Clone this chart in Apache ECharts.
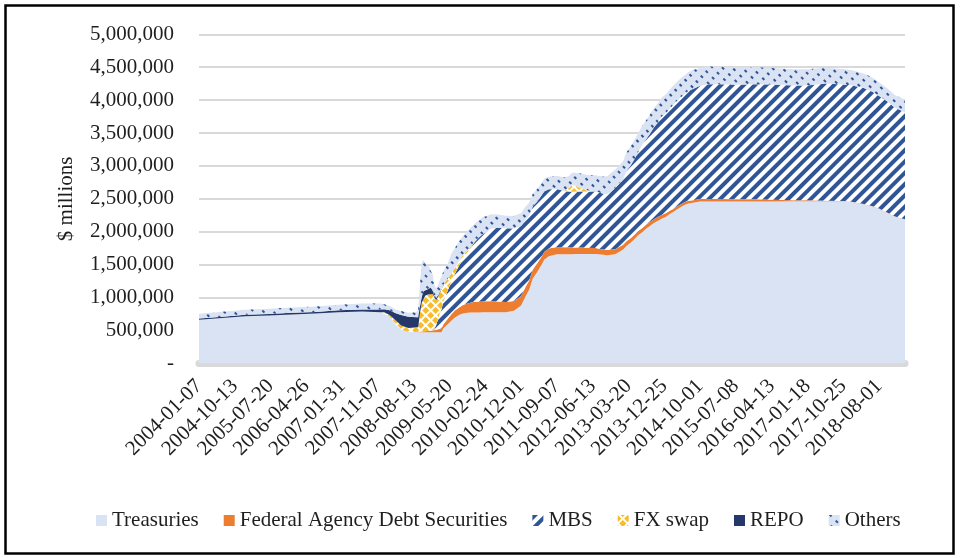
<!DOCTYPE html>
<html>
<head>
<meta charset="utf-8">
<script src="https://cdn.jsdelivr.net/npm/echarts@6/dist/echarts.min.js"></script>
<style>
  html, body { margin: 0; padding: 0; background: #ffffff; }
  #chart { width: 960px; height: 558px; }
</style>
</head>
<body>
<div id="chart"></div>
<script>
// ---- data ($ millions, weekly dates) ----
const startDate = '2004-01-07';
const endDate = '2019-02-20';
const xTickLabels = ['2004-01-07','2004-10-13','2005-07-20','2006-04-26','2007-01-31','2007-11-07','2008-08-13','2009-05-20','2010-02-24','2010-12-01','2011-09-07','2012-06-13','2013-03-20','2013-12-25','2014-10-01','2015-07-08','2016-04-13','2017-01-18','2017-10-25','2018-08-01'];
const seriesNames = ['Treasuries','Federal Agency Debt Securities','MBS','FX swap','REPO','Others'];

const dates = ['2004-01-07','2004-07-07','2005-01-05','2005-07-06','2006-01-04','2006-07-05','2007-01-03','2007-07-04','2007-11-28','2007-12-26',
'2008-02-06','2008-03-26','2008-05-07','2008-07-02','2008-09-03','2008-09-17','2008-10-01','2008-10-15','2008-10-29','2008-11-12',
'2008-11-26','2008-12-10','2008-12-24','2009-01-07','2009-01-21','2009-02-04','2009-02-18','2009-03-04','2009-03-18','2009-04-01',
'2009-05-06','2009-06-03','2009-07-01','2009-08-05','2009-09-02','2009-10-07','2009-11-04','2009-12-02','2010-01-06','2010-02-03',
'2010-03-03','2010-04-07','2010-06-02','2010-08-04','2010-10-06','2010-12-01','2011-01-05','2011-02-02','2011-03-02','2011-04-06',
'2011-05-04','2011-06-01','2011-07-06','2011-09-07','2011-11-02','2011-12-07','2012-01-04','2012-02-01','2012-03-07','2012-05-02',
'2012-07-04','2012-09-05','2012-10-03','2012-12-05','2013-01-02','2013-02-06','2013-03-06','2013-04-03','2013-05-01','2013-06-05',
'2013-07-03','2013-08-07','2013-09-04','2013-10-02','2013-11-06','2013-12-04','2014-01-08','2014-02-05','2014-03-05','2014-04-02',
'2014-05-07','2014-06-04','2014-07-02','2014-08-06','2014-10-01','2014-12-03','2015-03-04','2015-07-08','2015-12-02','2016-04-13',
'2016-10-05','2017-01-18','2017-06-07','2017-10-25','2018-01-03','2018-04-04','2018-06-06','2018-08-01','2018-10-03','2018-12-05',
'2019-01-09','2019-02-20'];

const treasuries = [666000,690000,717000,728000,745000,760000,779000,790000,779000,755000,
713000,590000,515000,479000,480000,480000,476000,476000,476000,476000,
476000,476000,476000,476000,476000,475000,475000,474000,474000,530000,
595000,650000,700000,740000,760000,770000,776000,776000,776000,777000,
777000,777000,777000,777000,800000,880000,1020000,1120000,1290000,1390000,
1480000,1580000,1630000,1660000,1660000,1660000,1660000,1663000,1664000,1665000,
1665000,1650000,1645000,1660000,1690000,1730000,1790000,1830000,1880000,1950000,
1990000,2050000,2090000,2130000,2170000,2200000,2230000,2270000,2300000,2340000,
2380000,2410000,2430000,2440000,2460000,2461000,2461000,2461000,2461000,2462000,
2463000,2464000,2465000,2465000,2454000,2419000,2390000,2350000,2290000,2230000,
2210000,2190000];

const agencyDebt = [0,0,0,0,0,0,0,0,0,0,
0,0,0,0,0,0,5000,10000,15000,15000,
18000,20000,20000,25000,30000,35000,45000,50000,55000,62000,
85000,97000,105000,115000,128000,140000,150000,160000,162000,165000,
168000,169000,165000,157000,150000,147000,144000,140000,139000,132000,
125000,118000,115000,110000,106000,104000,103000,100000,97000,92000,
88000,82000,80000,77000,76000,74000,72000,70000,68000,66000,
64000,62000,60000,58000,57000,57000,55000,50000,48000,46000,
44000,43000,42000,41000,40000,39000,36000,35000,33000,25000,
18000,14000,6000,4000,4000,4000,3000,2400,2400,2400,
2400,2400];

const mbs = [0,0,0,0,0,0,0,0,0,0,
0,0,0,0,0,0,0,0,0,0,
0,0,0,0,20000,70000,150000,236000,290000,350000,
430000,500000,560000,640000,700000,770000,840000,908000,980000,1020000,
1050000,1100000,1120000,1120000,1100000,1060000,1020000,990000,960000,940000,
930000,920000,900000,880000,855000,849000,845000,850000,853000,855000,
860000,845000,850000,927000,960000,1000000,1070000,1100000,1140000,1200000,
1260000,1300000,1340000,1390000,1440000,1490000,1520000,1550000,1580000,1600000,
1625000,1640000,1670000,1690000,1720000,1740000,1745000,1737000,1747000,1750000,
1740000,1745000,1780000,1770000,1765000,1760000,1740000,1710000,1690000,1650000,
1640000,1620000];

const fxSwap = [0,0,0,0,0,0,0,0,0,24000,
24000,62000,62000,62000,62000,70000,290000,440000,520000,540000,
550000,555000,580000,553000,450000,380000,340000,310000,300000,250000,
180000,120000,90000,70000,60000,35000,20000,10000,2000,0,
0,0,0,0,0,0,0,0,0,0,
0,0,0,0,0,50000,100000,85000,50000,20000,
5000,0,0,0,0,0,0,0,0,0,
0,0,0,0,0,0,0,0,0,0,
0,0,0,0,0,0,0,0,0,0,
0,0,0,0,0,0,0,0,0,0,
0,0];

const repo = [18000,20000,25000,24000,25000,22000,30000,30000,40000,45000,
70000,110000,160000,170000,165000,150000,100000,90000,90000,80000,
80000,90000,80000,60000,40000,30000,20000,15000,10000,5000,
0,0,0,0,0,0,0,0,0,0,
0,0,0,0,0,0,0,0,0,0,
0,0,0,0,0,0,0,0,0,0,
0,0,0,0,0,0,0,0,0,0,
0,0,0,0,0,0,0,0,0,0,
0,0,0,0,0,0,0,0,0,0,
0,0,0,0,0,0,0,0,0,0,
0,0];

const others = [72000,75000,76000,80000,82000,85000,85000,90000,92000,75000,
65000,60000,60000,60000,70000,130000,350000,520000,470000,420000,
380000,330000,250000,250000,180000,150000,160000,180000,190000,200000,
230000,300000,300000,300000,290000,300000,280000,270000,260000,260000,
240000,220000,200000,190000,190000,200000,200000,190000,190000,190000,
190000,190000,190000,200000,205000,180000,190000,200000,220000,230000,
240000,260000,270000,280000,270000,270000,280000,290000,290000,290000,
290000,290000,290000,290000,290000,290000,290000,290000,290000,290000,
290000,290000,285000,285000,270000,270000,265000,262000,259000,253000,
249000,245000,240000,235000,230000,222000,215000,210000,200000,190000,
190000,190000];

// ---- weekly category axis (one category per week, like the source sheet) ----
const WEEK = 7 * 86400000;
const t0 = Date.parse(startDate);
function weekIndex(d) { return Math.round((Date.parse(d) - t0) / WEEK); }
function isoDay(ms) { return new Date(ms).toISOString().slice(0, 10); }
const nWeeks = weekIndex(endDate) + 1;
const weeks = [];
for (let k = 0; k < nWeeks; k++) weeks.push(isoDay(t0 + k * WEEK));
const xs = dates.map(weekIndex);
function pairs(arr) { return arr.map((v, i) => [xs[i], v]); }
function fmtNum(v) {
  if (v === 0) return '-';
  return String(v).replace(/\B(?=(\d{3})+(?!\d))/g, ',');
}

const FONT = '"Liberation Serif", "Times New Roman", serif';
const TXT = '#1f1f1f';

const styles = [
  { color: '#DAE3F3' },
  { color: '#ED7D31' },
  { color: '#FFFFFF', decal: { symbol: 'rect', symbolSize: 1, color: '#2F5597', dashArrayX: [1, 0], dashArrayY: [3.6, 3.6], rotation: -Math.PI / 4 } },
  { color: '#FFFFFF', decal: { symbol: 'rect', symbolSize: 1, color: '#F7BC2D', dashArrayX: [5, 1.5], dashArrayY: [5, 1.5], rotation: Math.PI / 4 } },
  { color: '#24396A' },
  { color: '#DAE3F3', decal: { symbol: 'rect', symbolSize: 1, color: '#2F5597', dashArrayX: [1.6, 4.2], dashArrayY: [3, 5.5], rotation: -Math.PI / 4 } }
];
const seriesData = [treasuries, agencyDebt, mbs, fxSwap, repo, others];

const chart = echarts.init(document.getElementById('chart'), null, { renderer: 'canvas' });
chart.setOption({
  backgroundColor: '#ffffff',
  animation: false,
  textStyle: { fontFamily: FONT },
  graphic: [{
    type: 'rect', silent: true, z: 100,
    shape: { x: 5.5, y: 5.5, width: 948, height: 548 },
    style: { fill: 'none', stroke: '#000000', lineWidth: 2.5 }
  }],
  grid: { left: 199, right: 55, top: 34.3, bottom: 194.5, containLabel: false, outerBoundsMode: 'none' },
  legend: {
    left: 91, top: 505,
    itemWidth: 11, itemHeight: 11, itemGap: 25,
    icon: 'rect',
    textStyle: { fontFamily: FONT, fontSize: 21, color: TXT },
    data: seriesNames
  },
  xAxis: {
    type: 'category', data: weeks, boundaryGap: false,
    offset: 3.5,
    axisLine: { show: true, lineStyle: { color: '#D9D9D9', width: 7 } },
    axisTick: { show: false },
    splitLine: { show: false },
    axisLabel: {
      interval: 39,
      rotate: 45, margin: 16, hideOverlap: false,
      fontFamily: FONT, fontSize: 21, color: TXT,
      formatter: function (v) { const k = xTickLabels.indexOf(v); return k >= 0 ? xTickLabels[k] : ''; }
    }
  },
  yAxis: {
    type: 'value', min: 0, max: 5000000, interval: 500000,
    name: '$ millions', nameLocation: 'middle', nameGap: 122,
    nameTextStyle: { fontFamily: FONT, fontSize: 21, color: TXT },
    axisLine: { show: false }, axisTick: { show: false },
    splitLine: { lineStyle: { color: '#D9D9D9', width: 2 } },
    axisLabel: { margin: 25, fontFamily: FONT, fontSize: 21, color: TXT, formatter: fmtNum }
  },
  series: seriesNames.map((name, i) => {
    const itemStyle = { color: styles[i].color };
    if (styles[i].decal) itemStyle.decal = styles[i].decal;
    return {
      name: name,
      type: 'line',
      stack: 'total',
      data: pairs(seriesData[i]),
      showSymbol: false,
      symbol: 'none',
      smooth: false,
      lineStyle: { width: 0, opacity: 0 },
      itemStyle: itemStyle,
      areaStyle: { color: styles[i].color, opacity: 1 },
      emphasis: { disabled: true }
    };
  })
});
</script>
</body>
</html>
